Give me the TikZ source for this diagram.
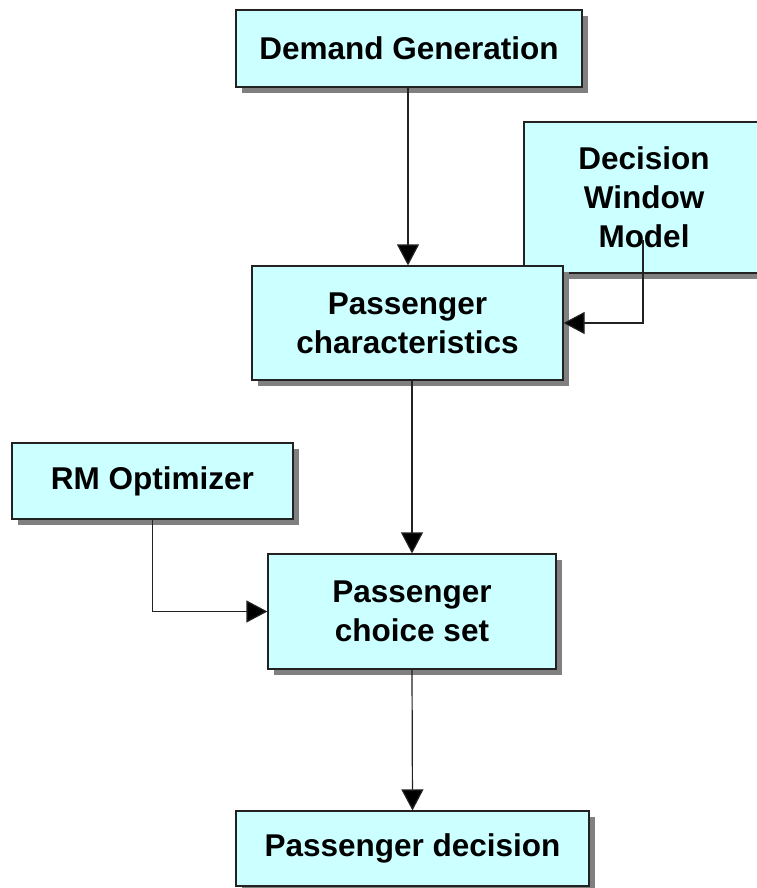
\documentclass[tikz,border=0pt]{standalone}
\usepackage{fontspec}
\setmainfont{Liberation Sans}
\usetikzlibrary{arrows.meta,shadows}
\definecolor{boxfill}{HTML}{CCFFFF}
\definecolor{boxline}{HTML}{222222}
\definecolor{shadowgray}{HTML}{808080}
\tikzset{
  stage/.style={draw=boxline, line width=1.2pt, fill=boxfill, inner sep=0pt,
    align=center, font=\fontsize{31.5}{39}\selectfont\bfseries,
    drop shadow={shadow xshift=6pt, shadow yshift=-6pt, fill=shadowgray, opacity=1}},
  flow/.style={draw=boxline, line width=1.2pt,
    -{Triangle[length=21pt, width=22pt, fill=black]}}
}
\begin{document}
\begin{tikzpicture}[x=1pt, y=-1pt]
  \useasboundingbox (0,0) rectangle (756,888);
  \node[stage, minimum width=346pt, minimum height=77pt] (dem) at (409,48.5) {Demand Generation};
  \node[stage, minimum width=240pt, minimum height=151pt] (dwm) at (644,197.5) {Decision\\Window\\Model};
  \node[stage, minimum width=311pt, minimum height=114pt] (pch) at (407.5,323) {Passenger\\characteristics};
  \node[stage, minimum width=281pt, minimum height=76pt] (rmo) at (152.5,481) {RM Optimizer};
  \node[stage, minimum width=288pt, minimum height=115pt] (pcs) at (412,611.5) {Passenger\\choice set};
  \node[stage, minimum width=353pt, minimum height=75pt] (pdc) at (412.5,848.5) {Passenger decision};
  \coordinate (dwmout) at (643,240);
  \draw[flow] ([xshift=-1pt]dem.south) -- ([xshift=-1pt]dem.south |- pch.north);
  \draw[flow] (dwmout) |- (pch.east);
  \draw[flow] (pcs.north |- pch.south) -- (pcs.north);
  \draw[flow] (rmo.south) |- (pcs.west);
  \draw[flow] (pcs.south) -- (pdc.north);
\end{tikzpicture}
\end{document}
